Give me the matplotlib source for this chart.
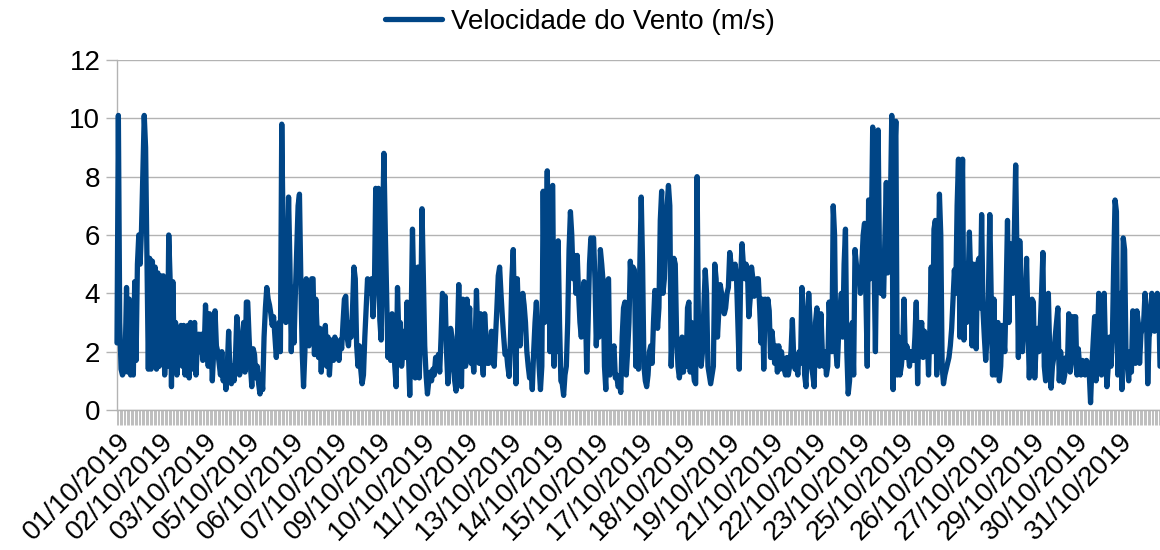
import matplotlib
matplotlib.use('Agg')
import matplotlib.pyplot as plt
import numpy as np
import pandas as pd

# Hourly wind speed (m/s), one list per day
d01 = [2.3, 10.1, 3.0, 1.4, 1.2, 1.3, 1.8, 4.2, 1.3, 3.8, 1.2, 3.7, 1.2, 4.4, 1.7, 5.0, 6.0, 5.0, 6.2, 8.2, 10.1, 9.0, 5.2, 1.4]
d02 = [5.2, 1.4, 5.1, 1.5, 4.9, 1.4, 4.7, 1.5, 4.6, 2.0, 4.6, 1.2, 2.5, 1.5, 6.0, 4.5, 0.8, 4.4, 1.8, 3.0, 1.2, 2.8, 2.0, 2.9]
d03 = [1.5, 2.9, 1.2, 2.7, 2.9, 1.1, 3.0, 1.4, 2.5, 3.0, 1.2, 2.2, 2.6, 2.0, 2.6, 1.7, 2.0, 3.6, 2.5, 1.5, 3.3, 2.5, 1.0, 2.0]
d04 = [3.4, 2.2, 2.0, 1.6, 1.2, 2.0, 1.0, 1.4, 0.7, 1.5, 2.7, 1.2, 0.9, 1.5, 1.0, 1.8, 3.2, 2.6, 1.2, 1.5, 2.0, 3.0, 1.3, 3.7]
d05 = [3.7, 2.5, 1.5, 0.8, 2.1, 1.9, 1.1, 1.5, 0.9, 0.55, 1.2, 0.7, 2.5, 3.5, 4.2, 3.8, 3.6, 3.3, 2.9, 3.2, 2.5, 1.8, 2.5, 3.0]
d06 = [2.0, 9.8, 6.0, 3.3, 3.0, 4.5, 7.3, 5.0, 2.0, 4.2, 2.3, 4.0, 5.5, 7.0, 7.4, 4.5, 2.0, 0.8, 2.0, 4.5, 3.0, 2.2, 3.5, 4.5]
d07 = [4.5, 1.9, 3.8, 2.7, 1.8, 2.8, 1.3, 2.6, 2.0, 2.9, 1.5, 2.5, 1.2, 2.0, 2.4, 1.7, 2.5, 2.0, 2.2, 1.7, 2.4, 2.1, 3.0, 3.8]
d08 = [3.9, 2.5, 2.2, 3.0, 2.5, 3.5, 4.9, 4.5, 2.2, 1.5, 2.2, 1.4, 0.9, 1.2, 2.5, 3.5, 4.5, 4.0, 4.4, 4.5, 3.2, 4.0, 7.6, 5.0]
d09 = [7.6, 3.1, 2.4, 6.0, 8.8, 6.2, 4.0, 1.8, 3.0, 1.7, 3.3, 2.5, 1.5, 0.8, 4.2, 2.5, 3.0, 1.5, 2.0, 2.7, 1.8, 3.7, 2.0, 0.5]
d10 = [3.0, 6.2, 4.0, 1.1, 2.5, 4.9, 1.1, 3.0, 6.9, 4.5, 2.2, 1.2, 0.55, 1.0, 1.3, 1.0, 1.4, 1.2, 1.8, 1.5, 1.9, 1.3, 2.5, 4.0]
d11 = [3.7, 3.9, 2.0, 0.9, 1.8, 2.8, 2.5, 1.5, 1.0, 0.65, 2.5, 4.3, 2.0, 0.8, 3.8, 2.5, 1.5, 3.8, 2.3, 3.5, 1.6, 2.0, 1.3, 2.2]
d12 = [4.1, 2.5, 1.6, 3.3, 1.8, 1.2, 3.3, 2.5, 1.6, 1.6, 2.0, 2.7, 2.6, 1.5, 2.5, 3.5, 4.6, 4.9, 4.0, 3.2, 2.5, 1.9, 2.0, 1.5]
d13 = [1.15, 2.5, 4.5, 5.5, 3.0, 0.9, 4.5, 3.0, 2.2, 3.5, 4.0, 3.6, 3.0, 2.0, 1.5, 1.1, 1.5, 0.7, 2.0, 3.0, 3.7, 2.5, 1.5, 0.7]
d14 = [1.5, 7.5, 3.0, 5.5, 8.2, 5.0, 2.0, 7.6, 7.7, 1.5, 4.0, 2.0, 5.8, 3.0, 1.0, 0.9, 0.5, 1.2, 1.5, 3.0, 5.5, 6.8, 6.0, 4.5]
d15 = [5.3, 4.0, 5.3, 4.0, 3.0, 2.5, 3.5, 4.4, 3.5, 1.3, 3.0, 5.0, 5.9, 5.8, 5.9, 4.5, 2.2, 3.5, 2.5, 5.5, 5.0, 4.4, 1.5, 0.7]
d16 = [4.4, 4.5, 1.2, 2.0, 2.0, 2.2, 1.1, 1.2, 0.8, 0.9, 0.6, 2.5, 3.5, 3.7, 1.2, 2.0, 3.0, 5.1, 4.0, 4.9, 4.8, 1.5, 2.5, 1.4]
d17 = [5.0, 7.3, 5.0, 1.5, 1.0, 0.8, 1.2, 2.0, 2.2, 1.6, 3.0, 4.1, 4.0, 2.8, 3.5, 6.5, 7.5, 4.0, 4.5, 6.0, 7.0, 7.7, 7.0, 1.5]
d18 = [3.0, 5.2, 5.0, 2.5, 1.5, 1.1, 1.5, 2.5, 1.3, 2.0, 1.5, 3.5, 3.7, 1.3, 3.0, 1.5, 1.0, 0.9, 8.0, 3.0, 2.0, 1.5, 2.0, 3.5]
d19 = [4.8, 4.0, 1.5, 1.2, 0.9, 1.2, 1.5, 5.0, 4.5, 2.5, 3.4, 4.3, 4.0, 3.5, 3.3, 3.5, 4.0, 4.2, 5.4, 5.0, 4.5, 4.7, 5.0, 4.5]
d20 = [3.0, 1.4, 4.5, 5.7, 5.0, 4.5, 5.0, 4.8, 3.2, 3.8, 4.9, 4.5, 3.9, 4.0, 4.5, 4.5, 3.5, 2.3, 3.8, 1.4, 3.8, 3.2, 3.8, 3.4]
d21 = [1.8, 2.7, 2.2, 1.6, 2.2, 1.3, 2.2, 1.4, 2.0, 1.6, 1.4, 1.2, 1.8, 1.2, 1.5, 2.0, 3.1, 1.8, 1.4, 1.6, 1.2, 2.0, 1.6, 4.2]
d22 = [3.4, 1.2, 0.8, 2.5, 4.0, 3.0, 1.5, 1.2, 0.8, 3.0, 3.5, 2.5, 1.5, 3.3, 2.0, 1.5, 2.0, 1.2, 1.5, 3.7, 2.5, 2.0, 7.0, 6.0]
d23 = [2.0, 1.5, 2.6, 3.5, 4.0, 2.5, 5.0, 6.2, 2.0, 0.55, 1.0, 2.5, 3.0, 1.2, 5.5, 5.0, 4.5, 4.7, 4.0, 5.0, 6.0, 6.4, 4.0, 1.5]
d24 = [7.2, 4.5, 6.0, 9.7, 5.0, 2.0, 6.0, 9.6, 5.0, 4.0, 4.2, 3.9, 6.0, 7.8, 4.7, 5.5, 7.0, 10.1, 0.7, 8.5, 9.9, 1.2, 2.5, 1.2]
d25 = [1.5, 2.0, 3.8, 1.8, 2.2, 2.0, 1.5, 2.0, 1.8, 1.7, 2.5, 3.7, 0.9, 3.0, 2.7, 3.0, 1.8, 2.7, 2.0, 2.6, 1.2, 2.8, 4.9, 2.0]
d26 = [6.2, 6.5, 1.2, 4.0, 7.4, 6.0, 1.5, 0.9, 1.2, 1.4, 1.6, 1.8, 2.2, 2.8, 3.8, 4.8, 4.0, 7.0, 8.6, 2.5, 6.0, 8.6, 2.4, 5.0]
d27 = [3.0, 4.2, 6.1, 4.5, 2.2, 5.0, 3.0, 2.1, 5.0, 5.2, 3.5, 6.7, 3.4, 2.5, 1.7, 2.5, 4.0, 6.7, 4.0, 1.2, 3.8, 1.2, 2.7, 3.0]
d28 = [1.0, 1.5, 2.9, 2.5, 2.0, 4.0, 6.5, 3.0, 5.7, 5.5, 4.0, 6.0, 8.4, 5.0, 1.8, 5.8, 4.0, 2.0, 2.8, 3.5, 5.2, 3.0, 1.1, 2.5]
d29 = [3.8, 3.7, 1.1, 2.2, 2.8, 2.0, 2.8, 4.0, 5.4, 1.5, 1.0, 2.5, 4.0, 2.0, 0.75, 1.5, 1.8, 2.5, 3.0, 3.5, 1.0, 2.0, 1.5, 0.95]
d30 = [1.2, 1.8, 1.5, 3.3, 1.3, 1.6, 3.2, 2.5, 3.2, 1.2, 2.1, 1.5, 1.2, 1.7, 1.5, 1.2, 1.7, 1.6, 1.3, 0.25, 1.5, 2.4, 3.2, 1.0]
d31 = [2.0, 4.0, 2.5, 1.2, 2.5, 4.0, 2.0, 0.8, 1.5, 2.5, 1.5, 2.4, 5.0, 7.2, 6.8, 1.2, 3.0, 4.0, 0.7, 5.9, 5.5, 2.0, 1.5, 1.0]
d32 = [2.0, 1.3, 3.4, 2.5, 1.6, 3.4, 3.0, 1.6, 2.6, 2.8, 3.0, 4.0, 3.5, 0.9, 2.5, 2.8, 4.0, 3.5, 2.7, 3.0, 4.0, 3.9, 1.5]

days = [d01, d02, d03, d04, d05, d06, d07, d08, d09, d10, d11, d12, d13, d14, d15, d16,
        d17, d18, d19, d20, d21, d22, d23, d24, d25, d26, d27, d28, d29, d30, d31, d32]
speed = np.concatenate([np.asarray(d, dtype=float) for d in days])
times = pd.date_range('2019-10-01 00:00', periods=len(speed), freq='h')
series_name = 'Velocidade do Vento (m/s)'
label_step = 32
y_ticks = [0, 2, 4, 6, 8, 10, 12]

plt.rcParams['font.family'] = ['Liberation Sans', 'DejaVu Sans']

W, H = 1160, 550
fig = plt.figure(figsize=(W / 100, H / 100), dpi=100)
ax = fig.add_axes([117 / W, 1 - 410 / H, 1 - 117 / W, 350 / H])

x = np.arange(len(speed))
ax.plot(x, speed, color='#004586', lw=3.8, solid_joinstyle='round',
        solid_capstyle='round', label=series_name, zorder=3, clip_on=False)

ax.set_xlim(0, len(speed) - 1)
ax.set_ylim(0, 12)
ax.set_yticks(y_ticks)
ax.yaxis.grid(True, color='#b3b3b3', lw=1)
ax.set_axisbelow(True)
for s in ['top', 'right']:
    ax.spines[s].set_visible(False)
for s in ['left', 'bottom']:
    ax.spines[s].set_color('#b3b3b3')
    ax.spines[s].set_linewidth(1)

labels = [t.strftime('%d/%m/%Y') if i % label_step == 0 else '' for i, t in enumerate(times)]
ax.set_xticks(x)
ax.set_xticklabels(labels, rotation=45, ha='right', rotation_mode='anchor', fontsize=20)
ax.tick_params(axis='x', length=11, width=0.6, color='#b3b3b3', pad=2)
ax.tick_params(axis='y', length=8, width=1, color='#b3b3b3', labelsize=20, pad=4)

fig.legend(loc='center', bbox_to_anchor=(0.5, 1 - 22 / H), frameon=False, fontsize=20,
           handlelength=2.05, handletextpad=0.3)

fig.savefig('out.png', dpi=100)
